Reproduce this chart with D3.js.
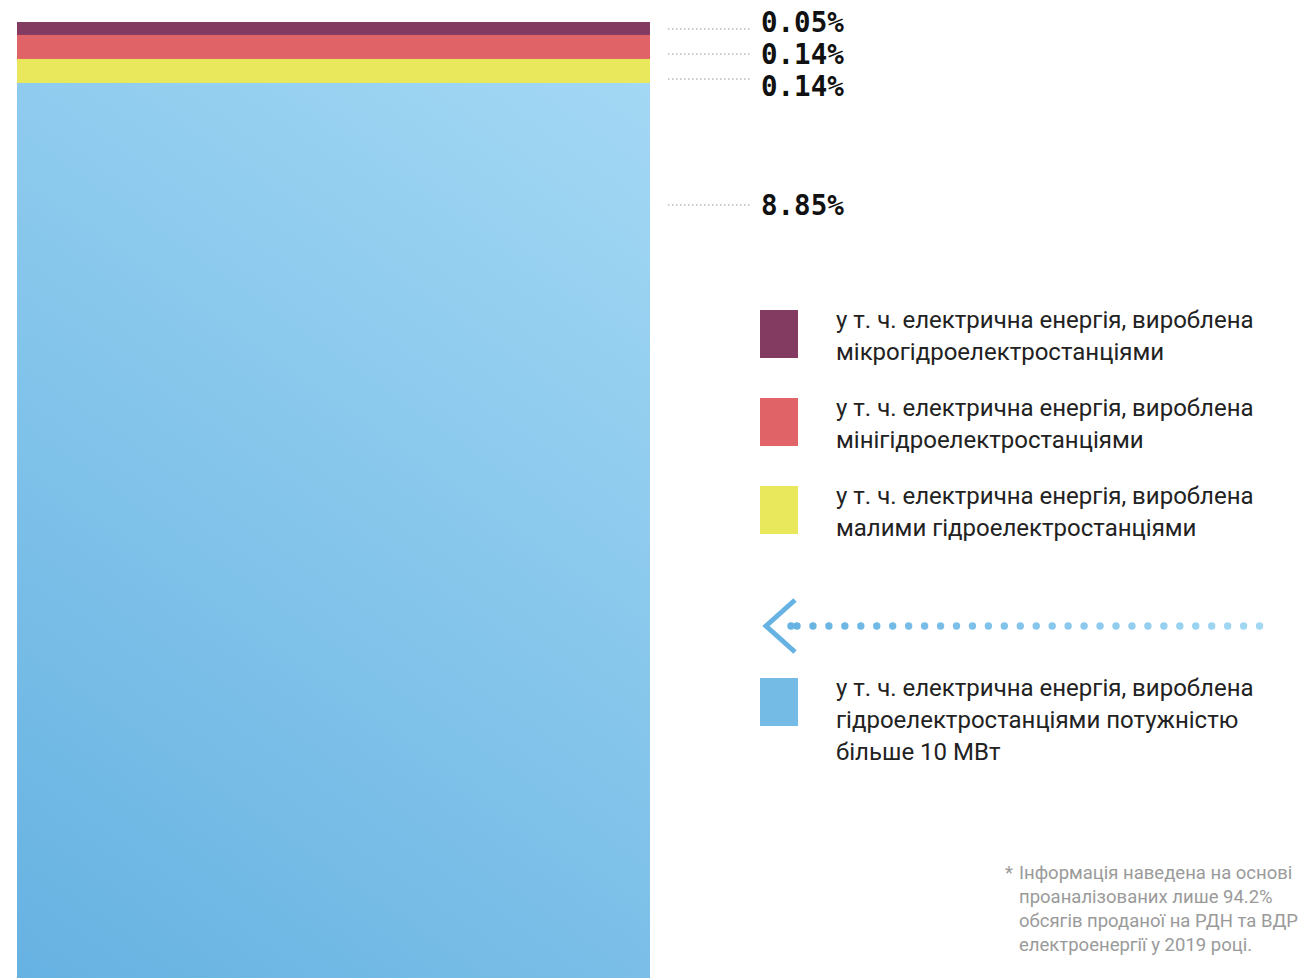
<!DOCTYPE html>
<html><head><meta charset="utf-8">
<script src="https://cdn.jsdelivr.net/npm/d3@7"></script>
<style>html,body{margin:0;padding:0;background:#fff;overflow:hidden}</style>
</head><body><svg id="c" width="1300" height="978"></svg>
<script>
const categories = ["мікро", "міні", "малі", "великі"];
const values = [0.05, 0.14, 0.14, 8.85];
const valueLabels = ["0.05%", "0.14%", "0.14%", "8.85%"];
const colors = ["#843b62", "#e06368", "#e9e85c", "url(#blueGrad)"];
const legendLines = [
  ["у т. ч. електрична енергія, вироблена", "мікрогідроелектростанціями"],
  ["у т. ч. електрична енергія, вироблена", "мінігідроелектростанціями"],
  ["у т. ч. електрична енергія, вироблена", "малими гідроелектростанціями"],
  ["у т. ч. електрична енергія, вироблена", "гідроелектростанціями потужністю", "більше 10 МВт"]
];
const footnote = ["Інформація наведена на основі", "проаналізованих лише 94.2%", "обсягів проданої на РДН та ВДР", "електроенергії у 2019 році."];

(function(){
const svg = d3.select("#c");
const defs = svg.append("defs");
const g1 = defs.append("linearGradient").attr("id","blueGrad")
  .attr("gradientUnits","userSpaceOnUse").attr("x1",17).attr("y1",978).attr("x2",650).attr("y2",83);
g1.append("stop").attr("offset","0%").attr("stop-color","#66b2e2");
g1.append("stop").attr("offset","100%").attr("stop-color","#a3d8f4");
const g2 = defs.append("linearGradient").attr("id","dotGrad")
  .attr("gradientUnits","userSpaceOnUse").attr("x1",790).attr("y1",0).attr("x2",1260).attr("y2",0);
g2.append("stop").attr("offset","0%").attr("stop-color","#66b2e2");
g2.append("stop").attr("offset","100%").attr("stop-color","#a3d8f4");

// bar
const x = d3.scaleBand().domain(["bar"]).range([17, 650]).padding(0);
const h = d3.scalePow().exponent(0.6).domain([0, 0.14]).range([0, 24]);
const barTop = 22, barBottom = 978;
let acc = barTop;
const segs = values.map((v, i) => {
  const y0 = acc;
  const hh = i === values.length - 1 ? barBottom - acc : h(v);
  acc += hh;
  return {v, i, y0, hh};
});
svg.selectAll("rect.seg").data(segs).join("rect").attr("class","seg")
  .attr("x", x("bar")).attr("width", x.bandwidth())
  .attr("y", d => d.y0).attr("height", d => d.hh + (d.i < 3 ? 0.5 : 0))
  .attr("fill", (d) => colors[d.i]);

// value labels
const labelY = [22, 54, 86, 205];
const leaderY = [29, 54, 79, 205];
valueLabels.forEach((t, i) => {
  svg.append("line").attr("x1", 668).attr("x2", 752).attr("y1", leaderY[i]).attr("y2", leaderY[i])
    .attr("stroke", "#bbb").attr("stroke-width", 1.5).attr("stroke-dasharray", "1.5,2.5");
  svg.append("text").attr("x", 761).attr("y", labelY[i]).attr("dy","0.36em")
    .attr("font-family","'DejaVu Sans Mono', monospace").attr("font-weight","bold")
    .attr("font-size", 27.5).attr("fill","#111").text(t);
});

// legend
const legY = [310, 398, 486, 678];
legendLines.forEach((lines, i) => {
  svg.append("rect").attr("x", 760).attr("y", legY[i]).attr("width", 38).attr("height", 48)
    .attr("fill", i === 3 ? "#74bbe6" : colors[i]);
  const t = svg.append("text").attr("font-family","Roboto, sans-serif").attr("font-size", 24)
    .attr("fill","#222");
  lines.forEach((l, j) => {
    t.append("tspan").attr("x", 836).attr("y", legY[i] + 18 + j * 32).text(l);
  });
});

// arrow
svg.append("path").attr("d","M795,600 L766,626 L795,652").attr("fill","none")
  .attr("stroke","#66b2e2").attr("stroke-width",5);
const dots = [791].concat(d3.range(30).map(k => 797 + k * 15.95));
svg.selectAll("circle.dot").data(dots).join("circle").attr("class","dot")
  .attr("cx", d => d).attr("cy", 626).attr("r", 3.7).attr("fill","url(#dotGrad)");

// footnote
svg.append("text").attr("x", 1005).attr("y", 879).attr("font-family","Roboto, sans-serif")
  .attr("font-size", 18.5).attr("fill","#9a9a9a").text("*");
const ft = svg.append("text").attr("font-family","Roboto, sans-serif").attr("font-size", 18.5).attr("fill","#9a9a9a");
footnote.forEach((l, j) => ft.append("tspan").attr("x", 1019).attr("y", 879 + j * 24).text(l));
})();
</script></body></html>
